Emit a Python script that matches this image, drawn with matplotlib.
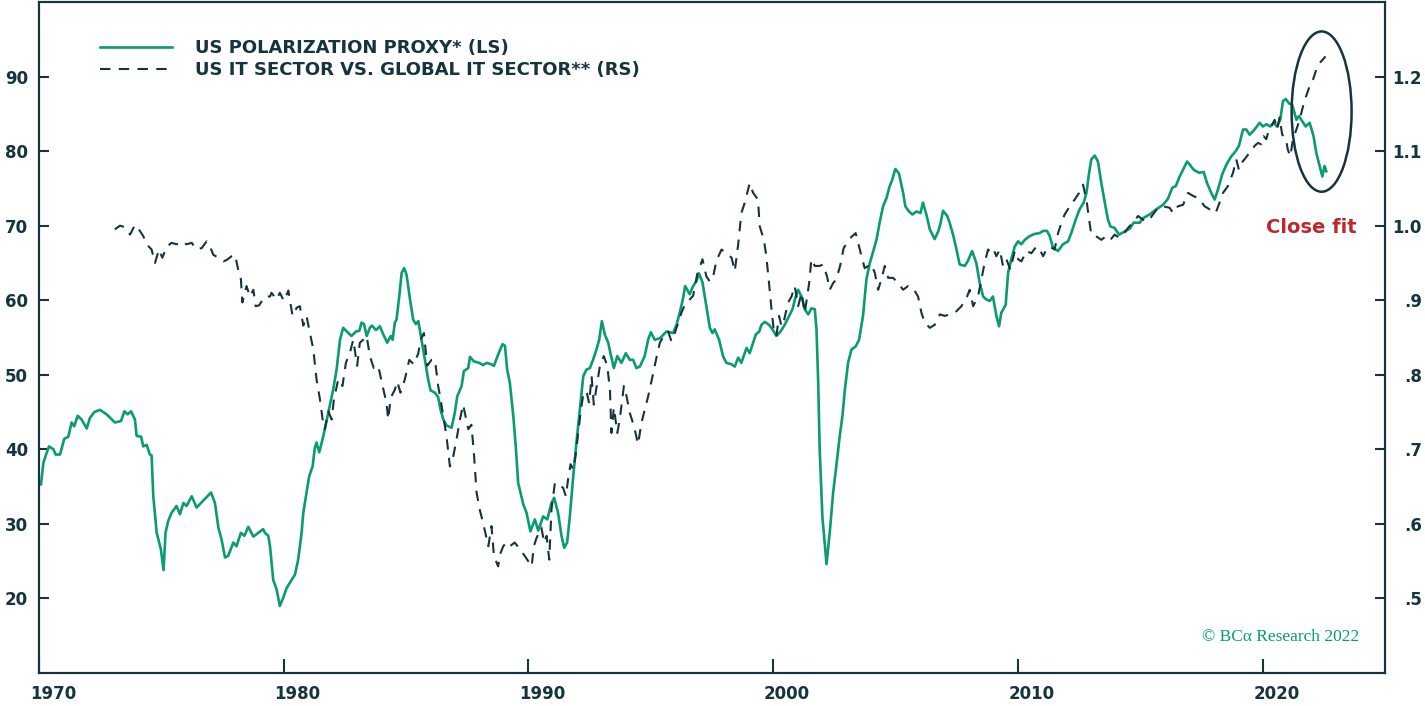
import matplotlib.pyplot as plt
import matplotlib.transforms as mtransforms
from matplotlib.patches import Ellipse
from matplotlib.lines import Line2D

# US polarization proxy (left scale)
polar_years = [1970.08, 1970.18, 1970.31, 1970.41, 1970.59, 1970.68, 1970.86, 1971.03, 1971.20, 1971.33,
               1971.44, 1971.58, 1971.74, 1971.95, 1972.08, 1972.26, 1972.49, 1972.76, 1973.10, 1973.35,
               1973.49, 1973.62, 1973.76, 1973.92, 1973.99, 1974.17, 1974.26, 1974.40, 1974.53, 1974.60,
               1974.67, 1974.81, 1974.98, 1975.09, 1975.17, 1975.28, 1975.42, 1975.62, 1975.76, 1975.90,
               1976.03, 1976.24, 1976.44, 1977.03, 1977.19, 1977.33, 1977.46, 1977.60, 1977.73, 1977.94,
               1978.07, 1978.25, 1978.39, 1978.55, 1978.76, 1978.96, 1979.16, 1979.23, 1979.37, 1979.44,
               1979.57, 1979.71, 1979.84, 1979.98, 1980.12, 1980.25, 1980.46, 1980.59, 1980.73, 1980.80,
               1980.93, 1981.04, 1981.18, 1981.27, 1981.34, 1981.45, 1981.62, 1981.82, 1982.02, 1982.16,
               1982.30, 1982.43, 1982.64, 1982.77, 1982.95, 1983.09, 1983.18, 1983.28, 1983.39, 1983.52,
               1983.60, 1983.77, 1983.93, 1984.07, 1984.23, 1984.37, 1984.45, 1984.54, 1984.61, 1984.72,
               1984.82, 1984.92, 1985.02, 1985.16, 1985.29, 1985.40, 1985.50, 1985.63, 1985.77, 1985.90,
               1986.00, 1986.18, 1986.31, 1986.41, 1986.52, 1986.65, 1986.86, 1986.99, 1987.09, 1987.27,
               1987.36, 1987.54, 1987.61, 1987.77, 1987.99, 1988.15, 1988.29, 1988.49, 1988.59, 1988.76,
               1988.94, 1989.04, 1989.13, 1989.24, 1989.38, 1989.49, 1989.58, 1989.79, 1989.92, 1990.08,
               1990.26, 1990.40, 1990.60, 1990.77, 1990.94, 1991.05, 1991.21, 1991.35, 1991.46, 1991.58,
               1991.69, 1991.83, 1991.96, 1992.10, 1992.24, 1992.37, 1992.51, 1992.64, 1992.78, 1992.89,
               1993.00, 1993.12, 1993.26, 1993.35, 1993.49, 1993.63, 1993.80, 1993.98, 1994.14, 1994.28,
               1994.41, 1994.55, 1994.75, 1994.89, 1995.00, 1995.16, 1995.37, 1995.64, 1995.91, 1996.05,
               1996.18, 1996.32, 1996.40, 1996.59, 1996.73, 1996.87, 1996.97, 1997.11, 1997.27, 1997.41,
               1997.52, 1997.61, 1997.79, 1997.95, 1998.09, 1998.30, 1998.43, 1998.57, 1998.70, 1998.91,
               1999.04, 1999.18, 1999.29, 1999.43, 1999.52, 1999.66, 1999.83, 1999.97, 2000.13, 2000.30,
               2000.47, 2000.65, 2000.79, 2000.92, 2001.02, 2001.16, 2001.29, 2001.43, 2001.56, 2001.70,
               2001.77, 2001.84, 2001.90, 2002.01, 2002.18, 2002.31, 2002.45, 2002.61, 2002.72, 2002.83,
               2002.93, 2003.06, 2003.20, 2003.37, 2003.51, 2003.67, 2003.81, 2003.95, 2004.11, 2004.22,
               2004.35, 2004.49, 2004.63, 2004.76, 2004.87, 2004.99, 2005.14, 2005.31, 2005.40, 2005.55,
               2005.69, 2005.85, 2006.02, 2006.12, 2006.26, 2006.40, 2006.60, 2006.74, 2006.83, 2006.94,
               2007.11, 2007.21, 2007.35, 2007.49, 2007.62, 2007.83, 2007.96, 2008.13, 2008.30, 2008.44,
               2008.58, 2008.71, 2008.85, 2008.98, 2009.12, 2009.23, 2009.32, 2009.50, 2009.60, 2009.73,
               2009.87, 2010.01, 2010.14, 2010.28, 2010.48, 2010.69, 2010.89, 2011.03, 2011.19, 2011.30,
               2011.44, 2011.64, 2011.84, 2012.05, 2012.18, 2012.36, 2012.52, 2012.69, 2012.80, 2012.91,
               2013.00, 2013.14, 2013.27, 2013.41, 2013.55, 2013.68, 2013.78, 2013.95, 2014.13, 2014.30,
               2014.57, 2014.73, 2014.98, 2015.11, 2015.38, 2015.66, 2015.93, 2016.13, 2016.31, 2016.45,
               2016.61, 2016.75, 2016.91, 2017.02, 2017.18, 2017.40, 2017.59, 2017.73, 2017.90, 2018.04,
               2018.17, 2018.35, 2018.52, 2018.72, 2018.90, 2019.03, 2019.20, 2019.33, 2019.47, 2019.67,
               2019.88, 2020.01, 2020.15, 2020.31, 2020.45, 2020.59, 2020.72, 2020.83, 2020.94, 2021.08,
               2021.21, 2021.38, 2021.48, 2021.58, 2021.76, 2021.92, 2022.08, 2022.19, 2022.33, 2022.44,
               2022.53, 2022.60]
polar_vals = [35.3, 38.2, 39.5, 40.4, 40.0, 39.3, 39.3, 41.4, 41.7, 43.6,
              43.1, 44.5, 44.0, 42.8, 44.2, 45.0, 45.3, 44.7, 43.6, 43.8,
              45.1, 44.7, 45.1, 44.0, 41.8, 41.7, 40.4, 40.6, 39.3, 39.2,
              33.7, 28.8, 26.6, 23.8, 28.8, 30.4, 31.5, 32.4, 31.3, 32.8,
              32.4, 33.7, 32.2, 34.2, 32.8, 29.5, 27.9, 25.5, 25.7, 27.5,
              27.0, 28.8, 28.4, 29.6, 28.3, 28.8, 29.3, 28.8, 28.4, 27.0,
              22.5, 21.2, 19.0, 20.1, 21.4, 22.1, 23.2, 25.2, 28.8, 31.5,
              34.2, 36.4, 37.7, 40.2, 40.9, 39.6, 41.8, 44.9, 48.0, 50.7,
              54.7, 56.3, 55.6, 55.2, 55.8, 55.9, 57.0, 56.8, 55.2, 56.3,
              56.6, 56.0, 56.5, 55.4, 54.3, 55.2, 54.7, 57.0, 57.4, 60.5,
              63.7, 64.3, 63.4, 60.1, 57.4, 56.8, 57.2, 54.7, 52.0, 49.4,
              47.9, 47.6, 47.0, 45.3, 44.0, 43.2, 42.9, 44.9, 47.1, 48.5,
              50.5, 50.9, 52.4, 51.8, 51.6, 51.3, 51.6, 51.4, 51.2, 52.7,
              54.1, 53.9, 50.7, 48.9, 44.5, 40.0, 35.5, 32.6, 31.5, 29.0,
              30.6, 29.1, 31.0, 30.6, 32.8, 33.5, 31.5, 28.4, 26.8, 27.5,
              31.0, 36.4, 40.9, 45.3, 49.8, 50.7, 50.9, 52.0, 53.4, 54.7,
              57.2, 55.4, 54.3, 52.9, 50.9, 52.5, 51.6, 52.9, 52.0, 52.0,
              50.9, 51.1, 52.5, 54.7, 55.7, 54.7, 54.9, 55.8, 55.6, 56.7,
              58.3, 60.3, 61.9, 60.8, 61.9, 62.6, 63.6, 62.4, 59.2, 56.3,
              55.6, 56.1, 54.7, 52.5, 51.6, 51.4, 51.1, 52.3, 51.6, 53.6,
              52.9, 54.3, 55.4, 55.8, 56.7, 57.1, 56.7, 56.1, 55.2, 55.8,
              56.7, 57.9, 58.8, 60.5, 61.4, 60.5, 58.8, 58.1, 58.9, 58.8,
              56.1, 48.9, 40.0, 31.0, 24.6, 28.8, 34.2, 38.6, 41.8, 44.5,
              48.0, 51.6, 53.4, 53.8, 54.7, 57.9, 62.8, 65.0, 66.8, 68.1,
              70.4, 72.6, 73.7, 75.3, 76.2, 77.6, 77.0, 74.4, 72.6, 71.9,
              71.5, 71.9, 71.7, 73.1, 71.5, 69.5, 68.2, 69.2, 70.2, 72.0,
              71.3, 70.4, 68.8, 66.8, 64.8, 64.6, 65.3, 66.6, 65.0, 62.3,
              60.5, 60.1, 59.9, 60.5, 57.9, 56.5, 58.3, 59.4, 63.7, 65.5,
              67.2, 67.9, 67.5, 68.1, 68.6, 68.9, 69.0, 69.3, 69.3, 68.6,
              67.0, 66.6, 67.5, 67.9, 69.0, 70.8, 72.2, 73.1, 74.4, 77.1,
              78.9, 79.4, 78.6, 75.7, 73.1, 70.8, 69.9, 69.7, 68.8, 69.1,
              69.6, 70.4, 70.4, 71.0, 71.5, 72.2, 72.8, 73.6, 75.1, 75.3,
              76.6, 77.5, 78.6, 78.2, 77.5, 77.1, 77.2, 75.7, 74.4, 73.5,
              74.8, 76.9, 78.2, 79.3, 80.0, 80.7, 82.9, 82.9, 82.2, 82.9,
              83.8, 83.3, 83.6, 83.3, 83.8, 83.3, 84.2, 86.7, 87.0, 86.4,
              86.2, 84.2, 84.7, 84.2, 83.3, 83.8, 82.0, 79.8, 78.0, 76.6,
              78.0, 77.3]

# US IT sector vs global IT sector (right scale)
it_years = [1973.10, 1973.31, 1973.51, 1973.72, 1973.92, 1974.08, 1974.26, 1974.40, 1974.60, 1974.74,
            1974.90, 1975.04, 1975.22, 1975.42, 1975.62, 1975.83, 1976.03, 1976.24, 1976.44, 1976.65,
            1976.85, 1976.99, 1977.12, 1977.33, 1977.53, 1977.67, 1977.87, 1978.01, 1978.14, 1978.25,
            1978.31, 1978.48, 1978.62, 1978.76, 1978.85, 1978.99, 1979.23, 1979.44, 1979.50, 1979.71,
            1979.84, 1980.01, 1980.19, 1980.36, 1980.53, 1980.66, 1980.80, 1980.93, 1981.04, 1981.21,
            1981.34, 1981.48, 1981.59, 1981.68, 1981.82, 1981.96, 1982.05, 1982.23, 1982.40, 1982.54,
            1982.70, 1982.84, 1983.00, 1983.11, 1983.25, 1983.39, 1983.52, 1983.68, 1983.86, 1984.04,
            1984.20, 1984.27, 1984.37, 1984.54, 1984.64, 1984.77, 1984.95, 1985.13, 1985.32, 1985.50,
            1985.59, 1985.73, 1985.86, 1986.04, 1986.18, 1986.31, 1986.41, 1986.52, 1986.65, 1986.79,
            1986.93, 1987.06, 1987.20, 1987.33, 1987.54, 1987.67, 1987.77, 1987.88, 1988.01, 1988.15,
            1988.36, 1988.49, 1988.59, 1988.76, 1988.86, 1988.97, 1989.10, 1989.24, 1989.44, 1989.65,
            1989.85, 1989.99, 1990.13, 1990.22, 1990.33, 1990.53, 1990.64, 1990.74, 1990.85, 1990.94,
            1991.08, 1991.26, 1991.42, 1991.53, 1991.62, 1991.72, 1991.83, 1991.94, 1992.03, 1992.13,
            1992.24, 1992.37, 1992.48, 1992.58, 1992.67, 1992.81, 1992.92, 1993.08, 1993.22, 1993.33,
            1993.39, 1993.49, 1993.63, 1993.73, 1993.90, 1994.01, 1994.14, 1994.31, 1994.48, 1994.62,
            1994.75, 1994.89, 1995.07, 1995.23, 1995.37, 1995.53, 1995.71, 1995.84, 1995.98, 1996.12,
            1996.25, 1996.39, 1996.59, 1996.73, 1996.89, 1997.11, 1997.27, 1997.41, 1997.55, 1997.68,
            1997.89, 1998.09, 1998.30, 1998.43, 1998.57, 1998.70, 1998.84, 1999.04, 1999.18, 1999.38,
            1999.45, 1999.62, 1999.72, 1999.83, 1999.93, 2000.02, 2000.13, 2000.24, 2000.34, 2000.45,
            2000.61, 2000.75, 2000.88, 2001.02, 2001.16, 2001.29, 2001.47, 2001.56, 2001.70, 2001.90,
            2002.04, 2002.20, 2002.31, 2002.45, 2002.58, 2002.75, 2002.88, 2003.06, 2003.20, 2003.37,
            2003.47, 2003.61, 2003.74, 2003.88, 2004.01, 2004.15, 2004.29, 2004.42, 2004.56, 2004.70,
            2004.90, 2005.10, 2005.31, 2005.51, 2005.72, 2005.92, 2006.06, 2006.19, 2006.40, 2006.60,
            2006.81, 2007.01, 2007.21, 2007.42, 2007.69, 2007.90, 2008.03, 2008.17, 2008.37, 2008.51,
            2008.64, 2008.78, 2008.85, 2008.98, 2009.12, 2009.26, 2009.39, 2009.53, 2009.69, 2009.87,
            2010.01, 2010.14, 2010.35, 2010.55, 2010.75, 2010.89, 2011.03, 2011.16, 2011.30, 2011.50,
            2011.64, 2011.78, 2011.91, 2012.12, 2012.32, 2012.50, 2012.66, 2012.80, 2012.91, 2013.00,
            2013.18, 2013.41, 2013.61, 2013.78, 2013.95, 2014.13, 2014.30, 2014.50, 2014.70, 2014.91,
            2015.11, 2015.32, 2015.52, 2015.72, 2015.93, 2016.20, 2016.34, 2016.54, 2016.75, 2016.95,
            2017.15, 2017.36, 2017.43, 2017.63, 2017.83, 2018.08, 2018.24, 2018.38, 2018.58, 2018.79,
            2018.92, 2019.03, 2019.13, 2019.26, 2019.40, 2019.54, 2019.67, 2019.81, 2019.95, 2020.04,
            2020.15, 2020.26, 2020.35, 2020.49, 2020.59, 2020.69, 2020.80, 2020.94, 2021.03, 2021.13,
            2021.24, 2021.38, 2021.51, 2021.65, 2021.78, 2021.92, 2022.06, 2022.19, 2022.33, 2022.46,
            2022.57]
it_vals = [0.995, 1.000, 0.998, 0.988, 1.001, 0.995, 0.986, 0.975, 0.968, 0.950,
           0.968, 0.957, 0.972, 0.977, 0.975, 0.979, 0.975, 0.977, 0.968, 0.970,
           0.979, 0.972, 0.961, 0.957, 0.952, 0.954, 0.959, 0.961, 0.941, 0.928,
           0.897, 0.919, 0.905, 0.914, 0.892, 0.893, 0.905, 0.905, 0.910, 0.901,
           0.910, 0.899, 0.913, 0.879, 0.890, 0.892, 0.866, 0.879, 0.861, 0.834,
           0.794, 0.767, 0.740, 0.727, 0.751, 0.740, 0.767, 0.794, 0.785, 0.816,
           0.829, 0.847, 0.812, 0.843, 0.847, 0.852, 0.825, 0.809, 0.812, 0.785,
           0.762, 0.740, 0.769, 0.780, 0.791, 0.776, 0.794, 0.820, 0.814, 0.829,
           0.847, 0.856, 0.812, 0.820, 0.820, 0.785, 0.767, 0.744, 0.718, 0.677,
           0.691, 0.713, 0.740, 0.760, 0.727, 0.733, 0.695, 0.642, 0.619, 0.601,
           0.570, 0.597, 0.557, 0.543, 0.561, 0.570, 0.575, 0.570, 0.575, 0.566,
           0.557, 0.550, 0.543, 0.570, 0.581, 0.595, 0.575, 0.584, 0.552, 0.619,
           0.655, 0.653, 0.648, 0.637, 0.660, 0.680, 0.673, 0.695, 0.722, 0.749,
           0.774, 0.778, 0.762, 0.798, 0.760, 0.789, 0.812, 0.825, 0.812, 0.780,
           0.722, 0.756, 0.722, 0.740, 0.785, 0.771, 0.749, 0.731, 0.707, 0.736,
           0.753, 0.771, 0.798, 0.823, 0.843, 0.852, 0.858, 0.845, 0.856, 0.870,
           0.883, 0.894, 0.901, 0.906, 0.934, 0.955, 0.932, 0.925, 0.932, 0.953,
           0.968, 0.963, 0.957, 0.939, 0.975, 1.017, 1.031, 1.057, 1.044, 1.035,
           0.999, 0.981, 0.959, 0.923, 0.888, 0.861, 0.852, 0.879, 0.865, 0.874,
           0.897, 0.905, 0.919, 0.892, 0.910, 0.883, 0.923, 0.955, 0.946, 0.946,
           0.948, 0.932, 0.914, 0.923, 0.928, 0.948, 0.970, 0.979, 0.985, 0.990,
           0.977, 0.959, 0.943, 0.946, 0.948, 0.937, 0.914, 0.928, 0.946, 0.930,
           0.930, 0.923, 0.914, 0.919, 0.916, 0.905, 0.883, 0.870, 0.863, 0.867,
           0.881, 0.879, 0.881, 0.883, 0.892, 0.903, 0.914, 0.892, 0.905, 0.928,
           0.950, 0.968, 0.966, 0.970, 0.959, 0.968, 0.946, 0.955, 0.941, 0.966,
           0.955, 0.952, 0.966, 0.963, 0.972, 0.968, 0.959, 0.968, 0.972, 0.968,
           0.990, 1.004, 1.015, 1.026, 1.035, 1.044, 1.055, 1.035, 1.008, 0.988,
           0.986, 0.981, 0.986, 0.981, 0.988, 0.984, 0.988, 0.997, 1.004, 1.013,
           1.008, 1.006, 1.015, 1.024, 1.026, 1.024, 1.017, 1.026, 1.028, 1.044,
           1.040, 1.037, 1.035, 1.026, 1.022, 1.017, 1.031, 1.044, 1.053, 1.071,
           1.089, 1.075, 1.084, 1.089, 1.095, 1.100, 1.107, 1.111, 1.109, 1.120,
           1.116, 1.129, 1.133, 1.142, 1.129, 1.145, 1.122, 1.118, 1.102, 1.093,
           1.116, 1.129, 1.142, 1.160, 1.174, 1.187, 1.196, 1.209, 1.218, 1.223,
           1.227]

year_ticks = [1970, 1980, 1990, 2000, 2010, 2020]
left_ticks = [20, 30, 40, 50, 60, 70, 80, 90]
right_ticks = [0.5, 0.6, 0.7, 0.8, 0.9, 1.0, 1.1, 1.2]
right_labels = ['.5', '.6', '.7', '.8', '.9', '1.0', '1.1', '1.2']
legend_labels = ['US POLARIZATION PROXY* (LS)', 'US IT SECTOR VS. GLOBAL IT SECTOR** (RS)']

GREEN = '#0a9b74'
DARK = '#15343d'
RED = '#c0272d'

plt.rcParams['font.family'] = ['DejaVu Sans']

fig = plt.figure(figsize=(14.25, 7.06), dpi=100)
ax = fig.add_axes([39 / 1425, 33 / 706, 1346 / 1425, 671 / 706])
ax2 = ax.twinx()

ax.plot(polar_years, polar_vals, color=GREEN, lw=1.9, zorder=3)
ax2.plot(it_years, it_vals, color=DARK, lw=1.5, dashes=(5, 4))

ax.set_xlim(1970, 2025)
ax.set_ylim(10, 100)
ax2.set_ylim(0.4, 1.3)

ax.set_xticks(year_ticks)
ax.set_xticklabels([str(y) for y in year_ticks])
ax.set_yticks(left_ticks)
ax.set_yticklabels([str(v) for v in left_ticks])
ax2.set_yticks(right_ticks)
ax2.set_yticklabels(right_labels)

for a in (ax, ax2):
    for s in a.spines.values():
        s.set_color(DARK)
        s.set_linewidth(1.5)

ax.tick_params(axis='x', direction='in', length=10, width=1.5, color=DARK, pad=8.5,
               labelsize=12, labelcolor=DARK)
ax.tick_params(axis='y', direction='in', length=7, width=1.5, color=DARK, pad=8,
               labelsize=12, labelcolor=DARK)
ax2.tick_params(axis='y', direction='in', length=7, width=1.5, color=DARK, pad=26.5,
                labelsize=12, labelcolor=DARK)

for lbl in ax.get_xticklabels() + ax.get_yticklabels() + ax2.get_yticklabels():
    lbl.set_fontweight('bold')

# year labels sit a little to the right of their ticks
shift = mtransforms.ScaledTranslation(14 / 100, 0, fig.dpi_scale_trans)
for lbl in ax.get_xticklabels():
    lbl.set_transform(lbl.get_transform() + shift)
for lbl in ax2.get_yticklabels():
    lbl.set_horizontalalignment('right')

handles = [Line2D([], [], color=GREEN, lw=1.9),
           Line2D([], [], color=DARK, lw=1.5, dashes=(5, 4))]
leg = ax2.legend(handles, legend_labels, loc='upper left', bbox_to_anchor=(0.045, 0.945),
                 frameon=False, borderaxespad=0, borderpad=0, handlelength=4.0,
                 handletextpad=1.3, labelspacing=0.25, labelcolor=DARK,
                 prop={'weight': 'bold', 'size': 13})

ax2.add_patch(Ellipse((2022.41, 1.153), 2.45, 0.215, fill=False, ec=DARK, lw=1.8))
ax2.text(2022.0, 0.997, 'Close fit', color=RED, fontsize=14, fontweight='bold',
         ha='center', va='center')
ax.text(2023.96, 14.8, '\u00a9 BC\u03b1 Research 2022', color=GREEN, fontsize=12.5,
        family=['Liberation Serif', 'DejaVu Serif'], ha='right', va='center')

fig.savefig('out.png', dpi=100)
